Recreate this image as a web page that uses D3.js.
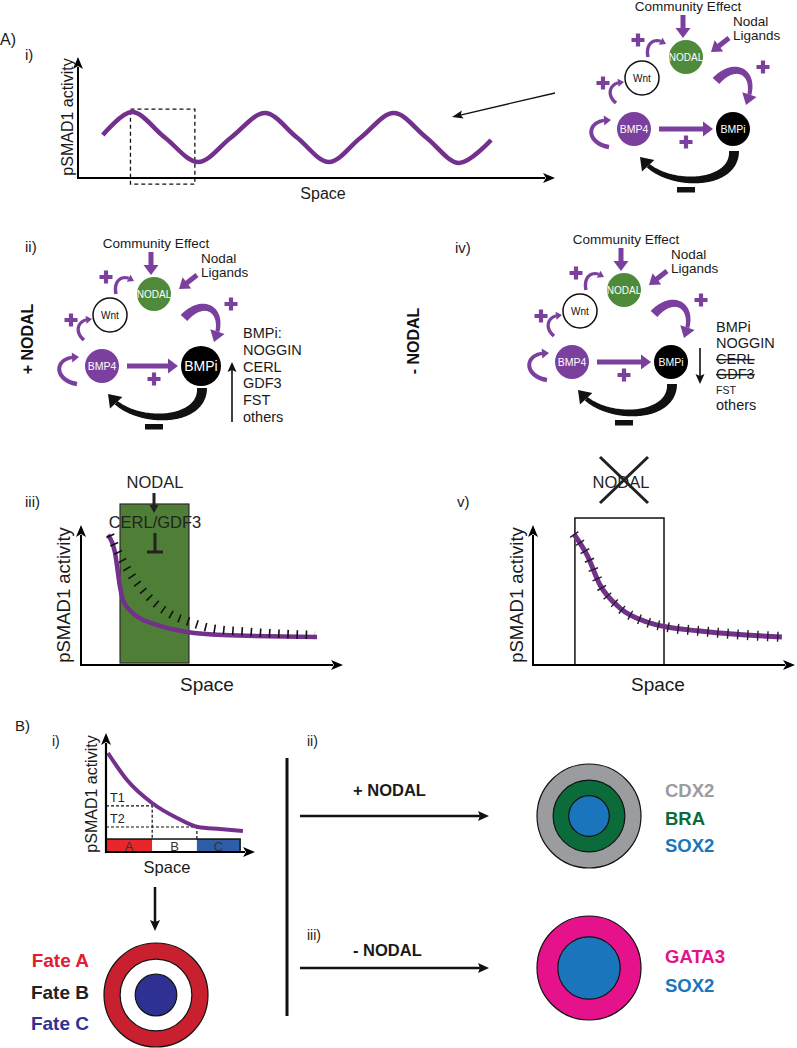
<!DOCTYPE html>
<html><head><meta charset="utf-8">
<script src="https://cdn.jsdelivr.net/npm/d3@7"></script>
<style>
html,body{margin:0;padding:0;background:#fff;}
svg text{font-family:"Liberation Sans", Arial, Helvetica, sans-serif;}
</style></head><body>
<script>
// ================= DATA =================
// A i) periodic pSMAD1 pattern (space 0-100, activity 0-100)
const waveSpace    = [5.2, 11.3, 18.2, 25.2, 32.1, 39.2, 45.9, 52.6, 59.3, 66.2, 73.0, 79.9, 86.6];
const waveActivity = [35.5, 54.5, 33.5, 13.2, 33.5, 53.7, 33.5, 13.2, 33.5, 53.7, 33.5, 12.4, 31.4];
const zoomBoxSpace = [11, 24.5];
const zoomBoxActivity = [-5, 57];

// A iii) + NODAL gradient
const nodalSpace    = [10.3, 13.0, 14.9, 16.0, 19.8, 29.0, 40.5, 54.2, 90.1];
const nodalActivity = [92.9, 80.0, 55.7, 46.4, 37.1, 28.6, 23.6, 21.4, 20.0];
const baseSpace     = [11.1, 14.1, 17.9, 22.5, 28.2, 34.7, 41.6, 49.2, 64.5, 89.3];
const baseActivity  = [92.9, 80.7, 67.9, 55.7, 44.3, 35.7, 30.7, 26.4, 23.6, 21.4];
const nodalZoneSpace = [14.9, 41.2];
const nodalZoneActivity = [1.4, 115];

// A v) - NODAL gradient
const noNodalSpace    = [15.6, 20.6, 25.6, 33.2, 43.5, 51.1, 63.7, 76.3, 95.0];
const noNodalActivity = [93.6, 78.6, 57.1, 40.7, 30.7, 27.1, 24.3, 22.1, 20.0];
const boxZoneSpace = [16.0, 50.0];
const boxZoneActivity = [0, 105];

// B i) threshold model
const fateSpace    = [1.3, 14.1, 30.9, 47.7, 61.7, 76.5, 91.9];
const fateActivity = [83.2, 60.5, 41.2, 28.6, 21.0, 19.3, 17.6];
const thresholdNames  = ['T1', 'T2'];
const thresholdValues = [38.7, 21.0];
const thresholdSpace  = [31, 61];
const zoneNames = ['A', 'B', 'C'];
const zoneEdges = [0, 31, 61, 90];
const zoneBarTop = 10.9;

// network
const nodeNames = ['NODAL', 'Wnt', 'BMP4', 'BMPi'];
const listPlus  = ['BMPi:', 'NOGGIN', 'CERL', 'GDF3', 'FST', 'others'];
const listMinus = ['BMPi', 'NOGGIN', 'CERL', 'GDF3', 'FST', 'others'];
const listMinusStruck = [false, false, true, true, false, false];

// rings (relative radii)
const fateLabels = ['Fate A', 'Fate B', 'Fate C'];
const fateRings  = [1, 0.69, 0.40];
const plusLabels = ['CDX2', 'BRA', 'SOX2'];
const plusRings  = [1, 0.69, 0.39];
const minusLabels = ['GATA3', 'SOX2'];
const minusRings  = [1, 0.60];

// ================= STYLE =================
const PURPLE = '#73318d', NETP = '#7b3f9e', GREEN = '#4f8a3a';
const svg = d3.select('body').append('svg').attr('width', 797).attr('height', 1048).style('display', 'block');

function txt(g, x, y, s, size, o = {}) {
  const t = g.append('text').attr('x', x).attr('y', y).text(s)
    .style('font-size', size + 'px').attr('fill', o.fill || '#1a1a1a');
  if (o.anchor) t.attr('text-anchor', o.anchor);
  if (o.weight) t.style('font-weight', o.weight);
  return t;
}
function head(g, tx, ty, ux, uy, hl, hw, color, notch = 0) {
  const bx = tx - ux * hl, by = ty - uy * hl;
  const nx = tx - ux * (hl - notch), ny = ty - uy * (hl - notch);
  g.append('path').attr('d', `M${tx},${ty}L${bx - uy * hw / 2},${by + ux * hw / 2}L${nx},${ny}L${bx + uy * hw / 2},${by - ux * hw / 2}Z`).attr('fill', color);
}
function straightArrow(g, x1, y1, x2, y2, w, hl, hw, color, notch = 0) {
  const dx = x2 - x1, dy = y2 - y1, L = Math.hypot(dx, dy), ux = dx / L, uy = dy / L;
  const bx = x2 - ux * (hl - notch - 0.5), by = y2 - uy * (hl - notch - 0.5);
  g.append('line').attr('x1', x1).attr('y1', y1).attr('x2', bx).attr('y2', by).attr('stroke', color).attr('stroke-width', w);
  head(g, x2, y2, ux, uy, hl, hw, color, notch);
}
function curvedArrow(g, p0, c1, c2, p1, w0, w1, hl, hw, color) {
  const N = 80, pts = [];
  for (let i = 0; i <= N; i++) {
    const t = i / N, m = 1 - t;
    pts.push([m*m*m*p0[0] + 3*m*m*t*c1[0] + 3*m*t*t*c2[0] + t*t*t*p1[0],
              m*m*m*p0[1] + 3*m*m*t*c1[1] + 3*m*t*t*c2[1] + t*t*t*p1[1]]);
  }
  const cum = [0];
  for (let i = 1; i <= N; i++) cum.push(cum[i-1] + Math.hypot(pts[i][0]-pts[i-1][0], pts[i][1]-pts[i-1][1]));
  const Lb = cum[N] - hl;
  let k = cum.findIndex(c => c >= Lb);
  const a = pts[k-1], b = pts[k], f = (Lb - cum[k-1]) / (cum[k] - cum[k-1]);
  const base = [a[0] + (b[0]-a[0]) * f, a[1] + (b[1]-a[1]) * f];
  const body = pts.slice(0, k).concat([base]);
  const left = [], right = [];
  body.forEach((p, i) => {
    const q = body[Math.min(i+1, body.length-1)], r = body[Math.max(i-1, 0)];
    let tx = q[0]-r[0], ty = q[1]-r[1]; const l = Math.hypot(tx, ty) || 1; tx /= l; ty /= l;
    const w = (w0 + (w1 - w0) * i / (body.length - 1)) / 2;
    left.push([p[0] - ty * w, p[1] + tx * w]); right.push([p[0] + ty * w, p[1] - tx * w]);
  });
  const poly = left.concat(right.reverse());
  g.append('path').attr('d', 'M' + poly.map(p => p.join(',')).join('L') + 'Z').attr('fill', color);
  let ux = p1[0]-base[0], uy = p1[1]-base[1]; const l = Math.hypot(ux, uy); ux /= l; uy /= l;
  head(g, p1[0], p1[1], ux, uy, hl, hw, color);
}
function plus(g, x, y, s = 6.5, w = 4.2) {
  g.append('path').attr('d', `M${x-s},${y}H${x+s}M${x},${y-s}V${y+s}`).attr('stroke', NETP).attr('stroke-width', w);
}
function axes(x, y, lw, hl, hw) {
  const [x0, x1] = x.range(), [y0, y1] = y.range();
  svg.append('g').attr('transform', `translate(0,${y0})`)
    .call(d3.axisBottom(x).ticks(0).tickSizeOuter(0))
    .call(g => g.select('.domain').attr('stroke', '#000').attr('stroke-width', lw).attr('d', `M${x0},0H${x1 - hl + 2}`));
  svg.append('g').attr('transform', `translate(${x0},0)`)
    .call(d3.axisLeft(y).ticks(0).tickSizeOuter(0))
    .call(g => g.select('.domain').attr('stroke', '#000').attr('stroke-width', lw).attr('d', `M0,${y0 + lw/2}V${y1 + hl - 2}`));
  head(svg, x1, y0, 1, 0, hl, hw, '#000', 3);
  head(svg, x0, y1, 0, -1, hl, hw, '#000', 3);
}
function yLabel(x, y, size) {
  svg.append('text').attr('transform', `translate(${x},${y}) rotate(-90)`).attr('text-anchor', 'middle')
    .style('font-size', size + 'px').attr('fill', '#1a1a1a').text('pSMAD1 activity');
}
const zip = (a, b) => a.map((v, i) => [v, b[i]]);

// ================= NETWORK =================
function network(cx, cy, bigBMPi) {
  const g = svg.append('g').attr('transform', `translate(${cx},${cy})`);
  txt(g, 2, -46, 'Community Effect', 13.5, { anchor: 'middle' });
  const nl = g.append('text').style('font-size', '13.5px').attr('fill', '#1a1a1a');
  nl.append('tspan').attr('x', 47).attr('y', -31).text('Nodal');
  nl.append('tspan').attr('x', 47).attr('y', -17).text('Ligands');
  straightArrow(g, -3, -42, -3, -19, 5, 10, 15, NETP);
  straightArrow(g, 43, -19, 25, -5, 5, 10, 14, NETP);
  // small loops
  curvedArrow(g, [-38, 0], [-41, -14], [-31, -21], [-20, -13], 3.5, 3, 6, 8, NETP);
  curvedArrow(g, [-70, 46], [-80, 38], [-77, 25], [-62, 25], 3.5, 3, 6, 8, NETP);
  curvedArrow(g, [-77, 90], [-101, 86], [-101, 62], [-75, 63], 4.5, 3.5, 7, 10, NETP);
  // NODAL -> BMPi
  curvedArrow(g, [30, 24], [50, 2], [74, 16], [60, 48], 9, 4, 11, 15, NETP);
  // BMP4 -> BMPi
  straightArrow(g, -27, 72, bigBMPi ? 24 : 27, 72, 5, 10, 15, NETP);
  // inhibition
  curvedArrow(g, [48, 94], [49, 131], [-24, 132], [-46, 100], 10, 4.5, 12, 17, '#111');
  g.append('rect').attr('x', -9).attr('y', 130).attr('width', 18).attr('height', 5.5).attr('fill', '#111');
  plus(g, -48, -17); plus(g, -83, 26); plus(g, 0, 85); plus(g, 77, 10);
  // nodes
  const nodes = [
    { name: nodeNames[0], x: 0, y: 0, r: 17, fill: GREEN, tc: '#fff', fs: 10 },
    { name: nodeNames[1], x: -44, y: 21, r: 17, fill: '#fff', tc: '#111', fs: 10 },
    { name: nodeNames[2], x: -52, y: 72, r: 17, fill: NETP, tc: '#fff', fs: 10.5 },
    { name: nodeNames[3], x: 47, y: 72, r: bigBMPi ? 20 : 17, fill: '#000', tc: '#fff', fs: bigBMPi ? 14 : 10.5 }
  ];
  const ng = g.selectAll('g.node').data(nodes).join('g').attr('transform', d => `translate(${d.x},${d.y})`);
  ng.append('circle').attr('r', d => d.r).attr('fill', d => d.fill)
    .attr('stroke', d => d.fill === '#fff' ? '#111' : 'none').attr('stroke-width', 1.5);
  ng.append('text').attr('text-anchor', 'middle').attr('dy', d => d.fs * 0.36).style('font-size', d => d.fs + 'px')
    .attr('fill', d => d.tc).text(d => d.name);
  return g;
}

// ================= PANEL A i =================
txt(svg, 0, 45, 'A)', 16);
txt(svg, 25, 60, 'i)', 15);
const xA = d3.scaleLinear([0, 100], [78, 555]), yA = d3.scaleLinear([0, 100], [178, 57]);
svg.append('rect').attr('x', xA(zoomBoxSpace[0])).attr('y', yA(zoomBoxActivity[1]))
  .attr('width', xA(zoomBoxSpace[1]) - xA(zoomBoxSpace[0])).attr('height', yA(zoomBoxActivity[0]) - yA(zoomBoxActivity[1]))
  .attr('fill', 'none').attr('stroke', '#111').attr('stroke-width', 1.3).attr('stroke-dasharray', '4,3');
svg.append('path').datum(zip(waveSpace, waveActivity))
  .attr('d', d3.line().x(d => xA(d[0])).y(d => yA(d[1])).curve(d3.curveCatmullRom.alpha(0.5)))
  .attr('fill', 'none').attr('stroke', PURPLE).attr('stroke-width', 4.5).attr('stroke-linecap', 'butt');
axes(xA, yA, 2, 12, 10);
yLabel(73, 117, 16);
txt(svg, 323, 199, 'Space', 16, { anchor: 'middle' });
straightArrow(svg, 555, 93, 452, 117, 1.3, 11, 8, '#111', 2);
network(686, 57, false);

// ================= PANEL A ii =================
txt(svg, 25, 252, 'ii)', 15);
network(154, 294, true);
svg.append('text').attr('transform', 'translate(33,339) rotate(-90)').attr('text-anchor', 'middle')
  .style('font-size', '16px').style('font-weight', 'bold').attr('fill', '#111').text('+ NODAL');
svg.append('g').selectAll('text').data(listPlus).join('text')
  .attr('x', 243).attr('y', (d, i) => 338 + i * 16.8).style('font-size', '14.5px').attr('fill', '#1a1a1a').text(d => d);
straightArrow(svg, 232, 422, 232, 362, 1.6, 10, 9, '#111', 2);

// ================= PANEL A iv =================
txt(svg, 455, 253, 'iv)', 15);
network(624, 290, false);
svg.append('text').attr('transform', 'translate(419,341) rotate(-90)').attr('text-anchor', 'middle')
  .style('font-size', '16px').style('font-weight', 'bold').attr('fill', '#111').text('- NODAL');
const listY = [332, 348, 364, 379, 394, 410];
svg.append('g').selectAll('text').data(listMinus).join('text')
  .attr('x', 716).attr('y', (d, i) => listY[i]).style('font-size', (d, i) => (i === 4 ? 10.5 : 14.5) + 'px')
  .style('text-decoration', (d, i) => listMinusStruck[i] ? 'line-through' : 'none')
  .attr('fill', '#1a1a1a').text(d => d);
straightArrow(svg, 700, 348, 700, 384, 1.6, 10, 9, '#111', 2);

// ================= PANEL A iii =================
txt(svg, 25, 507, 'iii)', 15);
const x3 = d3.scaleLinear([0, 100], [81, 343]), y3 = d3.scaleLinear([0, 100], [665, 525]);
svg.append('rect').attr('x', x3(nodalZoneSpace[0])).attr('y', y3(nodalZoneActivity[1]))
  .attr('width', x3(nodalZoneSpace[1]) - x3(nodalZoneSpace[0])).attr('height', y3(nodalZoneActivity[0]) - y3(nodalZoneActivity[1]))
  .attr('fill', '#4f7f36').attr('stroke', '#2a2a2a').attr('stroke-width', 1.2);
axes(x3, y3, 2, 12, 10);
const line3 = d3.line().x(d => x3(d[0])).y(d => y3(d[1])).curve(d3.curveMonotoneX);
svg.append('path').datum(zip(nodalSpace, nodalActivity)).attr('d', line3)
  .attr('fill', 'none').attr('stroke', PURPLE).attr('stroke-width', 4.5);
svg.append('path').datum(zip(baseSpace, baseActivity)).attr('d', line3)
  .attr('fill', 'none').attr('stroke', '#111').attr('stroke-width', 8.5).attr('stroke-dasharray', '1.6,7.6');
txt(svg, 155, 488, 'NODAL', 16.5, { anchor: 'middle', fill: '#222' });
straightArrow(svg, 154, 493, 154, 513, 3, 8, 9, '#222');
txt(svg, 155, 528, 'CERL/GDF3', 16.5, { anchor: 'middle', fill: '#222' });
svg.append('path').attr('d', 'M155,533V552M147,552H163').attr('stroke', '#222').attr('stroke-width', 3);
yLabel(70, 595, 18.5);
txt(svg, 207, 691, 'Space', 19, { anchor: 'middle' });

// ================= PANEL A v =================
txt(svg, 457, 507, 'v)', 15);
const x5 = d3.scaleLinear([0, 100], [533, 795]), y5 = d3.scaleLinear([0, 100], [665, 525]);
svg.append('rect').attr('x', x5(boxZoneSpace[0])).attr('y', y5(boxZoneActivity[1]))
  .attr('width', x5(boxZoneSpace[1]) - x5(boxZoneSpace[0])).attr('height', y5(boxZoneActivity[0]) - y5(boxZoneActivity[1]))
  .attr('fill', '#fff').attr('stroke', '#111').attr('stroke-width', 1.5);
axes(x5, y5, 2, 12, 10);
const line5 = d3.line().x(d => x5(d[0])).y(d => y5(d[1])).curve(d3.curveMonotoneX);
svg.append('path').datum(zip(noNodalSpace, noNodalActivity)).attr('d', line5)
  .attr('fill', 'none').attr('stroke', PURPLE).attr('stroke-width', 5);
svg.append('path').datum(zip(noNodalSpace, noNodalActivity)).attr('d', line5)
  .attr('fill', 'none').attr('stroke', '#222').attr('stroke-width', 10).attr('stroke-dasharray', '1.4,8.6');
txt(svg, 621, 488, 'NODAL', 16.5, { anchor: 'middle', fill: '#222' });
svg.append('path').attr('d', 'M600,457L648,503M648,457L600,503').attr('stroke', '#222').attr('stroke-width', 3);
yLabel(523, 595, 18.5);
txt(svg, 658, 691, 'Space', 19, { anchor: 'middle' });

// ================= PANEL B i =================
txt(svg, 15, 731, 'B)', 15);
txt(svg, 52, 746, 'i)', 14);
const xB = d3.scaleLinear([0, 100], [106, 255]), yB = d3.scaleLinear([0, 100], [852, 733]);
const zoneColors = ['#e8262b', '#ffffff', '#2f5ea8'];
const zg = svg.append('g');
zg.selectAll('rect').data(zoneNames).join('rect')
  .attr('x', (d, i) => xB(zoneEdges[i])).attr('y', yB(zoneBarTop))
  .attr('width', (d, i) => xB(zoneEdges[i + 1]) - xB(zoneEdges[i])).attr('height', yB(0) - yB(zoneBarTop))
  .attr('fill', (d, i) => zoneColors[i]);
zg.append('rect').attr('x', xB(0)).attr('y', yB(zoneBarTop)).attr('width', xB(zoneEdges[3]) - xB(0))
  .attr('height', yB(0) - yB(zoneBarTop)).attr('fill', 'none').attr('stroke', '#111').attr('stroke-width', 1.5);
zg.selectAll('text').data(zoneNames).join('text')
  .attr('x', (d, i) => (xB(zoneEdges[i]) + xB(zoneEdges[i + 1])) / 2).attr('y', yB(0) - 1.5)
  .attr('text-anchor', 'middle').style('font-size', '13px').attr('fill', '#333').text(d => d);
thresholdNames.forEach((n, i) => {
  svg.append('path').attr('d', `M${xB(0)},${yB(thresholdValues[i])}H${xB(thresholdSpace[i])}V${yB(zoneBarTop)}`)
    .attr('fill', 'none').attr('stroke', '#111').attr('stroke-width', 1.2).attr('stroke-dasharray', '3,2');
  txt(svg, 110, yB(thresholdValues[i]) - 4, n, 12.5, { fill: '#222' });
});
svg.append('path').datum(zip(fateSpace, fateActivity))
  .attr('d', d3.line().x(d => xB(d[0])).y(d => yB(d[1])).curve(d3.curveMonotoneX))
  .attr('fill', 'none').attr('stroke', PURPLE).attr('stroke-width', 4);
axes(xB, yB, 2.2, 12, 10);
yLabel(97, 794, 16);
txt(svg, 167, 873, 'Space', 16.5, { anchor: 'middle' });
straightArrow(svg, 155, 887, 155, 931, 2.5, 11, 10, '#111', 2);

const rScale = d3.scaleLinear([0, 1], [0, 52]);
function rings(cx, cy, radii, colors) {
  svg.append('g').selectAll('circle').data(radii).join('circle')
    .attr('cx', cx).attr('cy', cy).attr('r', d => rScale(d)).attr('fill', (d, i) => colors[i])
    .attr('stroke', '#111').attr('stroke-width', 1.2);
}
rings(156, 995, fateRings, ['#c8202f', '#ffffff', '#2e3192']);
const fateColors = ['#e0202e', '#222222', '#2e3192'];
svg.append('g').selectAll('text').data(fateLabels).join('text')
  .attr('x', 89).attr('y', (d, i) => 967 + i * 31.5).attr('text-anchor', 'end')
  .style('font-size', '19px').style('font-weight', 'bold').attr('fill', (d, i) => fateColors[i]).text(d => d);

// separator
svg.append('line').attr('x1', 287).attr('x2', 287).attr('y1', 758).attr('y2', 1016).attr('stroke', '#111').attr('stroke-width', 3);

// ================= PANEL B ii =================
txt(svg, 307, 746, 'ii)', 14);
txt(svg, 353, 796, '+ NODAL', 16.5, { weight: 'bold', fill: '#1a1a1a' });
straightArrow(svg, 300, 816, 489, 816, 2.5, 11, 10, '#111', 2);
const plusColors = ['#9a9c9f', '#0b6b3a', '#1b75bc'];
rings(589, 816, plusRings, plusColors);
svg.append('g').selectAll('text').data(plusLabels).join('text')
  .attr('x', 665).attr('y', (d, i) => 797 + i * 27.5)
  .style('font-size', '18.5px').style('font-weight', 'bold').attr('fill', (d, i) => plusColors[i]).text(d => d);

// ================= PANEL B iii =================
txt(svg, 307, 940, 'iii)', 14);
txt(svg, 353, 956, '- NODAL', 16.5, { weight: 'bold', fill: '#1a1a1a' });
straightArrow(svg, 300, 968, 489, 968, 2.5, 11, 10, '#111', 2);
const minusColors = ['#e5128b', '#1b75bc'];
rings(589, 968, minusRings, minusColors);
svg.append('g').selectAll('text').data(minusLabels).join('text')
  .attr('x', 665).attr('y', (d, i) => 963 + i * 28.5)
  .style('font-size', '18.5px').style('font-weight', 'bold').attr('fill', (d, i) => minusColors[i]).text(d => d);
</script>
</body></html>
